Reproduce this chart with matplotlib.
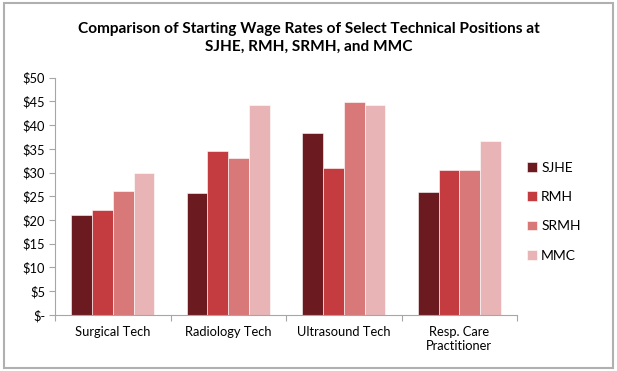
import numpy as np
import matplotlib
matplotlib.use("Agg")
import matplotlib.pyplot as plt
from matplotlib.patches import Rectangle

plt.rcParams["font.family"] = ["Lato", "DejaVu Sans"]

categories = ["Surgical Tech", "Radiology Tech", "Ultrasound Tech", "Resp. Care\nPractitioner"]
series = ["SJHE", "RMH", "SRMH", "MMC"]
sjhe = [21.0, 25.7, 38.3, 25.8]
rmh = [22.2, 34.6, 31.0, 30.6]
srmh = [26.2, 33.1, 44.9, 30.6]
mmc = [29.9, 44.2, 44.2, 36.6]
yticks = [0, 5, 10, 15, 20, 25, 30, 35, 40, 45, 50]

COLORS = ["#6b1a1f", "#c43c3f", "#d97878", "#e8b4b6"]
AX_C = "#a6a6a6"

fig = plt.figure(figsize=(6.17, 3.71), dpi=100)
fig.patches.append(Rectangle((0.006, 0.008), 0.987, 0.984, transform=fig.transFigure,
                             fill=False, edgecolor="#b0b0b0", lw=1.5))
ax = fig.add_axes([0.0891, 0.151, 0.749, 0.640])

x = np.arange(len(categories))
w = 0.18
for i, (name, vals) in enumerate(zip(series, [sjhe, rmh, srmh, mmc])):
    ax.bar(x + (i - 1.5) * w, vals, w, color=COLORS[i], label=name,
           edgecolor="white", linewidth=0.4)

ax.set_xlim(-0.5, len(categories) - 0.5)
ax.set_ylim(0, 50)
ax.set_yticks(yticks)
ax.set_yticklabels(["$-" if v == 0 else f"${v}" for v in yticks], fontsize=9.3)
ax.set_xticks(np.arange(len(categories) + 1) - 0.5)
ax.set_xticklabels([])
ax.set_xticks(x, minor=True)
ax.set_xticklabels(categories, minor=True, fontsize=9.3)
ax.tick_params(axis="x", which="minor", length=0, pad=8)
ax.tick_params(axis="x", which="major", length=4, color=AX_C)
ax.tick_params(axis="y", length=4, color=AX_C, pad=3)
for s in ["top", "right"]:
    ax.spines[s].set_visible(False)
for s in ["left", "bottom"]:
    ax.spines[s].set_color(AX_C)

fig.text(0.5, 0.898, "Comparison of Starting Wage Rates of Select Technical Positions at\n"
         "SJHE, RMH, SRMH, and MMC", ha="center", va="center", fontsize=11.1,
         fontweight="bold", linespacing=1.35)

ax.legend(loc="center left", bbox_to_anchor=(0.995, 0.435), frameon=False, fontsize=10,
          handlelength=0.7, handleheight=0.7, handletextpad=0.3, labelspacing=1.25)

fig.savefig("out.png", dpi=100)
